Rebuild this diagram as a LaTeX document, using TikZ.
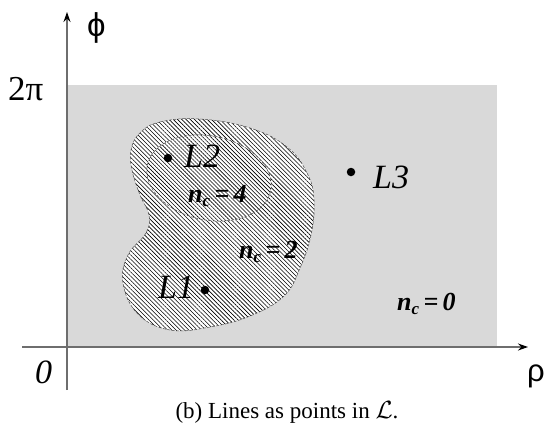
\documentclass[tikz,border=0pt]{standalone}
\usepackage{fontspec}
\setmainfont{Liberation Serif}
\newfontfamily\symsans{Liberation Sans}
\usetikzlibrary{arrows.meta,patterns.meta}
\definecolor{bggray}{RGB}{217,217,217}
\definecolor{axisgray}{RGB}{110,110,110}
\tikzset{
  axis/.style={draw=axisgray, line width=1.3pt, -{Stealth[length=10pt,width=7pt,color=black]}},
  region/.style={draw=gray!60!black, dash pattern=on 3pt off 1.5pt, line width=0.5pt},
  ptdot/.style={circle, fill=black, inner sep=0pt, minimum size=8.5pt},
  lbl/.style={inner sep=0pt, anchor=base west},
  ltxt/.style={lbl, font=\fontsize{34}{34}\selectfont\itshape},
  nctxt/.style={lbl, font=\fontsize{26}{26}\selectfont\bfseries\itshape},
}
\newcommand{\ncsub}{\raisebox{-0.35ex}{\fontsize{17}{17}\selectfont c}}
\begin{document}
\begin{tikzpicture}[x=1pt,y=-1pt]
\useasboundingbox (0,0) rectangle (545,434);
% shaded domain
\fill[bggray] (67,85) rectangle (497,347);
% outer region n_c = 2
\path[fill=white] plot[smooth cycle, tension=0.7] coordinates {
  (140,133) (160,122) (200,119) (250,128) (287,147) (307,173) (314,200)
  (311,235) (300,268) (284,296) (250,316) (210,327) (170,330) (138,314)
  (123,283) (128,255) (146,233) (149,215) (140,195) (132,170) (131,150)};
\path[region, pattern={Lines[angle=-45,distance=3pt,line width=0.6pt]}]
  plot[smooth cycle, tension=0.7] coordinates {
  (140,133) (160,122) (200,119) (250,128) (287,147) (307,173) (314,200)
  (311,235) (300,268) (284,296) (250,316) (210,327) (170,330) (138,314)
  (123,283) (128,255) (146,233) (149,215) (140,195) (132,170) (131,150)};
% inner region n_c = 4
\path[fill=white] (209,178) ellipse [x radius=63, y radius=42, rotate=-12];
\path[region, pattern={Lines[angle=-45,distance=2.85pt,line width=0.6pt]}]
  (209,178) ellipse [x radius=63, y radius=42, rotate=-12];
% axes
\coordinate (xs) at (22,347);
\coordinate (xe) at (528,347);
\coordinate (ys) at (67,390);
\coordinate (ye) at (67,12);
\draw[axis] (xs) -- (xe);
\draw[axis] (ys) -- (ye);
% axis labels
\node[lbl, font=\fontsize{33}{33}\selectfont\symsans] (phi) at (87,36) {ϕ};
\node[lbl, font=\fontsize{35}{35}\selectfont] (twopi) at (8,100) {2π};
\node[lbl, font=\fontsize{34}{34}\selectfont\itshape] (zero) at (35,383) {0};
\node[lbl, font=\fontsize{31}{31}\selectfont\symsans] (rho) at (527,381) {ρ};
% points
\node[ptdot] (L2d) at (168,158) {};
\node[ltxt] (L2) at (184,167) {L2};
\node[ptdot] (L1d) at (205,290) {};
\node[ltxt] (L1) at (158,298) {L1};
\node[ptdot] (L3d) at (351,172) {};
\node[ltxt] (L3) at (373,188) {L3};
% counts
\node[nctxt] (nc4) at (188,202) {n\ncsub\,=\,4};
\node[nctxt] (nc2) at (239,258) {n\ncsub\,=\,2};
\node[nctxt] (nc0) at (397,310) {n\ncsub\,=\,0};
% caption
\node[inner sep=0pt, anchor=base, font=\fontsize{23}{23}\selectfont] (cap) at (287,418) {(b) Lines as points in $\mathcal{L}$.};
\end{tikzpicture}
\end{document}
